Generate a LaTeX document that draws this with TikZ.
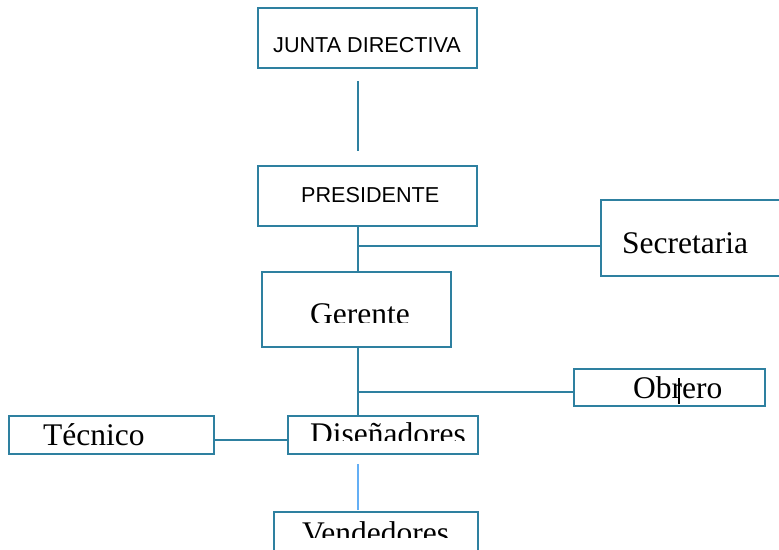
\documentclass[tikz,border=0pt]{standalone}
\usepackage{fontspec}
\setmainfont{Liberation Serif}
\newfontfamily\orgsans{Liberation Sans}
\definecolor{orgteal}{RGB}{46,128,160}
\definecolor{orglight}{RGB}{100,175,245}
\tikzset{
  orgbox/.style={draw=orgteal, line width=1.6pt, rectangle, inner sep=0pt},
  orglink/.style={draw=orgteal, line width=1.6pt},
  sanslabel/.style={anchor=base west, inner sep=0pt, font=\orgsans\fontsize{21.6}{24}\selectfont},
  seriflabel/.style={anchor=base west, inner sep=0pt, font=\fontsize{31.5}{36}\selectfont}
}
\begin{document}
\begin{tikzpicture}[x=1pt,y=-1pt]

    % --- Page ---
    \useasboundingbox (0,0) rectangle (779,549);

    % --- Coordinates ---
    % Vertical trunk of the chart
    \coordinate (trunk) at (358,0);

    % --- Boxes ---
    \node[orgbox, minimum width=219pt, minimum height=60pt] (junta) at (367.5,38) {};
    \node[orgbox, minimum width=219pt, minimum height=60pt] (pres) at (367.5,196) {};
    \node[orgbox, minimum width=189pt, minimum height=76pt] (secr) at (695.5,238) {};
    \node[orgbox, minimum width=189pt, minimum height=75pt] (ger) at (356.5,309.5) {};
    \node[orgbox, minimum width=191pt, minimum height=37pt] (obr) at (669.5,387.5) {};
    \node[orgbox, minimum width=190pt, minimum height=38pt] (dis) at (383,435) {};
    \node[orgbox, minimum width=205pt, minimum height=38pt] (tec) at (111.5,435) {};
    \node[orgbox, minimum width=204pt, minimum height=48pt] (ven) at (376,536) {};

    % --- Connectors ---
    \draw[orglink, shorten <=12pt, shorten >=14pt] (junta.south -| trunk) -- (pres.north -| trunk);
    \draw[orglink] (pres.south -| trunk) -- (ger.north -| trunk);
    \draw[orglink] ([yshift=-8pt]secr.west) -- ([yshift=-8pt]secr.west -| trunk);
    \draw[orglink] ([yshift=2pt]ger.south -| trunk) -- (dis.north -| trunk);
    \draw[orglink] ([yshift=-4.5pt]obr.west) -- ([yshift=-4.5pt]obr.west -| trunk);
    \draw[orglink] ([yshift=-5pt]tec.east) -- ([yshift=-5pt]dis.west);
    \draw[draw=orglight, line width=1.6pt, shorten <=9pt, shorten >=1pt] (dis.south -| trunk) -- (ven.north -| trunk);

    % --- Labels ---
    \node[sanslabel] (juntatext) at (273,52) {JUNTA DIRECTIVA};
    \node[sanslabel] (prestext) at (301,202) {PRESIDENTE};
    \node[seriflabel] (secrtext) at (622,253) {Secretaria};
    \node[seriflabel] (obrtext) at (633,398) {Obrero};
    \node[seriflabel] (tectext) at (43,445) {Técnico};
    % Labels cut off at the bottom as in the original
    \begin{scope}
      \clip (0,0) rectangle (779,322);
      \node[seriflabel] (gertext) at (310,324) {Gerente};
    \end{scope}
    \begin{scope}
      \clip (0,0) rectangle (779,440);
      \node[seriflabel] (distext) at (310,444) {Diseñadores};
    \end{scope}
    \begin{scope}
      \clip (0,0) rectangle (779,537);
      \node[seriflabel] (ventext) at (302,543) {Vendedores};
    \end{scope}

    % Stray cursor mark in Obrero
    \draw[line width=1.4pt] (679,378) -- (679,404);

\end{tikzpicture}
\end{document}
